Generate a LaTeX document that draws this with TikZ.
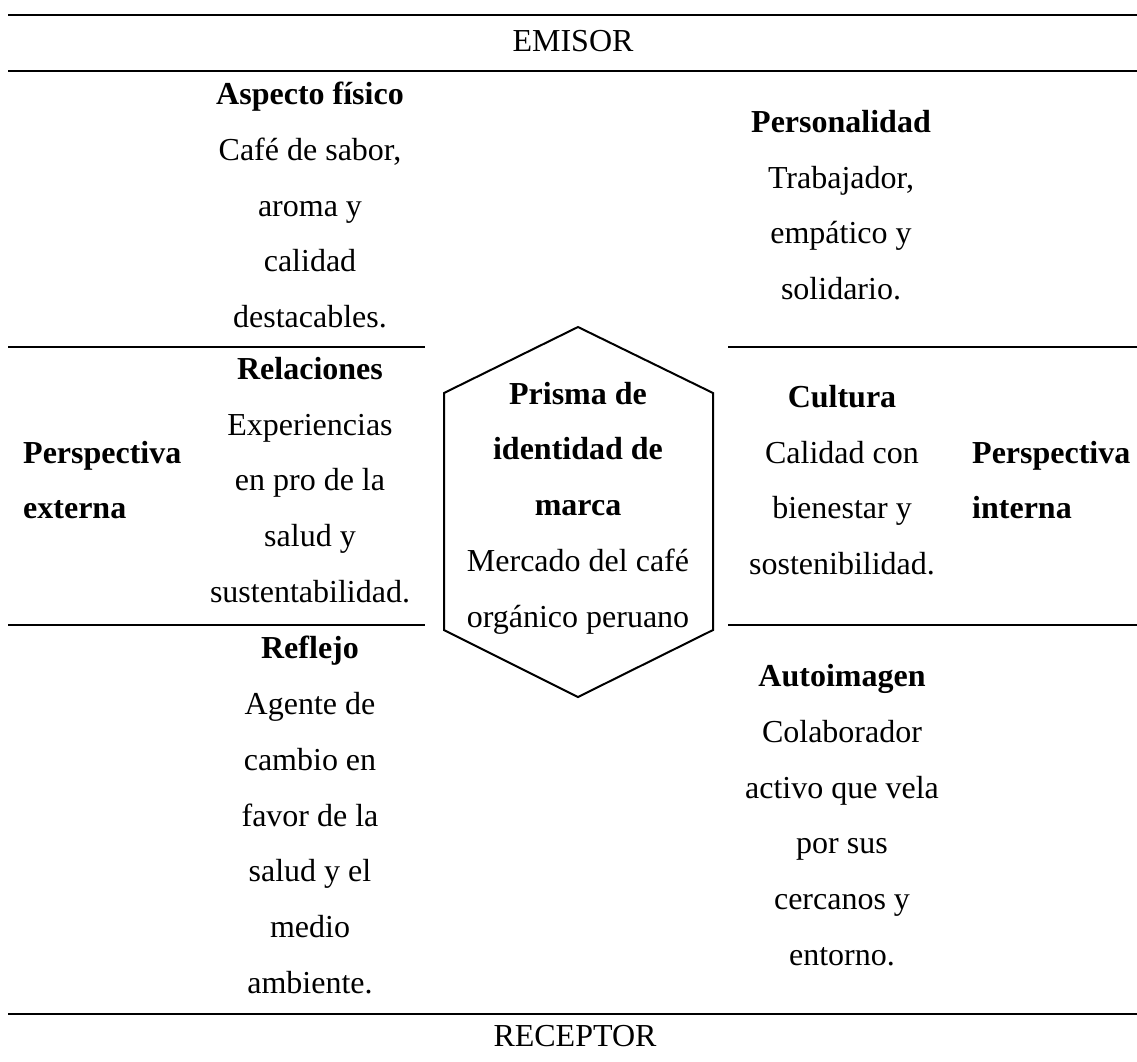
\documentclass[tikz,border=0pt]{standalone}
\usepackage{fontspec}
\setmainfont{Liberation Serif}
\begin{document}
\begin{tikzpicture}[x=1pt,y=-1pt,
  rule/.style={line width=2.6pt},
  hexline/.style={line width=2pt, line join=miter},
  txt/.style={align=center, inner sep=0pt, font=\fontsize{32}{55.7}\selectfont},
  side/.style={align=left, inner sep=0pt, anchor=west, font=\fontsize{32}{55.7}\selectfont\bfseries}]
\useasboundingbox (0,0) rectangle (1137,1061);
% horizontal rules
\draw[rule] (8,15) -- (1137,15);
\draw[rule] (8,71) -- (1137,71);
\draw[rule] (8,347) -- (425,347);
\draw[rule] (728,347) -- (1137,347);
\draw[rule] (8,625) -- (425,625);
\draw[rule] (728,625) -- (1137,625);
\draw[rule] (8,1014) -- (1137,1014);
% hexagon
\draw[hexline] (578,327) -- (713,393) -- (713,630) -- (578,697) -- (444,630) -- (444,393) -- cycle;
% texts
\node[txt] (emisor) at (573,41) {EMISOR};
\node[txt] (receptor) at (575,1036) {RECEPTOR};
\node[txt] (aspecto) at (310,205) {\textbf{Aspecto físico}\\Café de sabor,\\aroma y\\calidad\\destacables.};
\node[txt] (relaciones) at (310,480) {\textbf{Relaciones}\\Experiencias\\en pro de la\\salud y\\sustentabilidad.};
\node[txt] (reflejo) at (310,815) {\textbf{Reflejo}\\Agente de\\cambio en\\favor de la\\salud y el\\medio\\ambiente.};
\node[txt] (prisma) at (578,508) {\textbf{Prisma de}\\\textbf{identidad de}\\\textbf{marca}\\Mercado del café\\orgánico peruano};
\node[txt] (personalidad) at (841,205) {\textbf{Personalidad}\\Trabajador,\\empático y\\solidario.};
\node[txt] (cultura) at (842,480) {\textbf{Cultura}\\Calidad con\\bienestar y\\sostenibilidad.};
\node[txt] (autoimagen) at (842,815) {\textbf{Autoimagen}\\Colaborador\\activo que vela\\por sus\\cercanos y\\entorno.};
\node[side] (pext) at (23,480) {Perspectiva\\externa};
\node[side] (pint) at (972,480) {Perspectiva\\interna};
\end{tikzpicture}
\end{document}
